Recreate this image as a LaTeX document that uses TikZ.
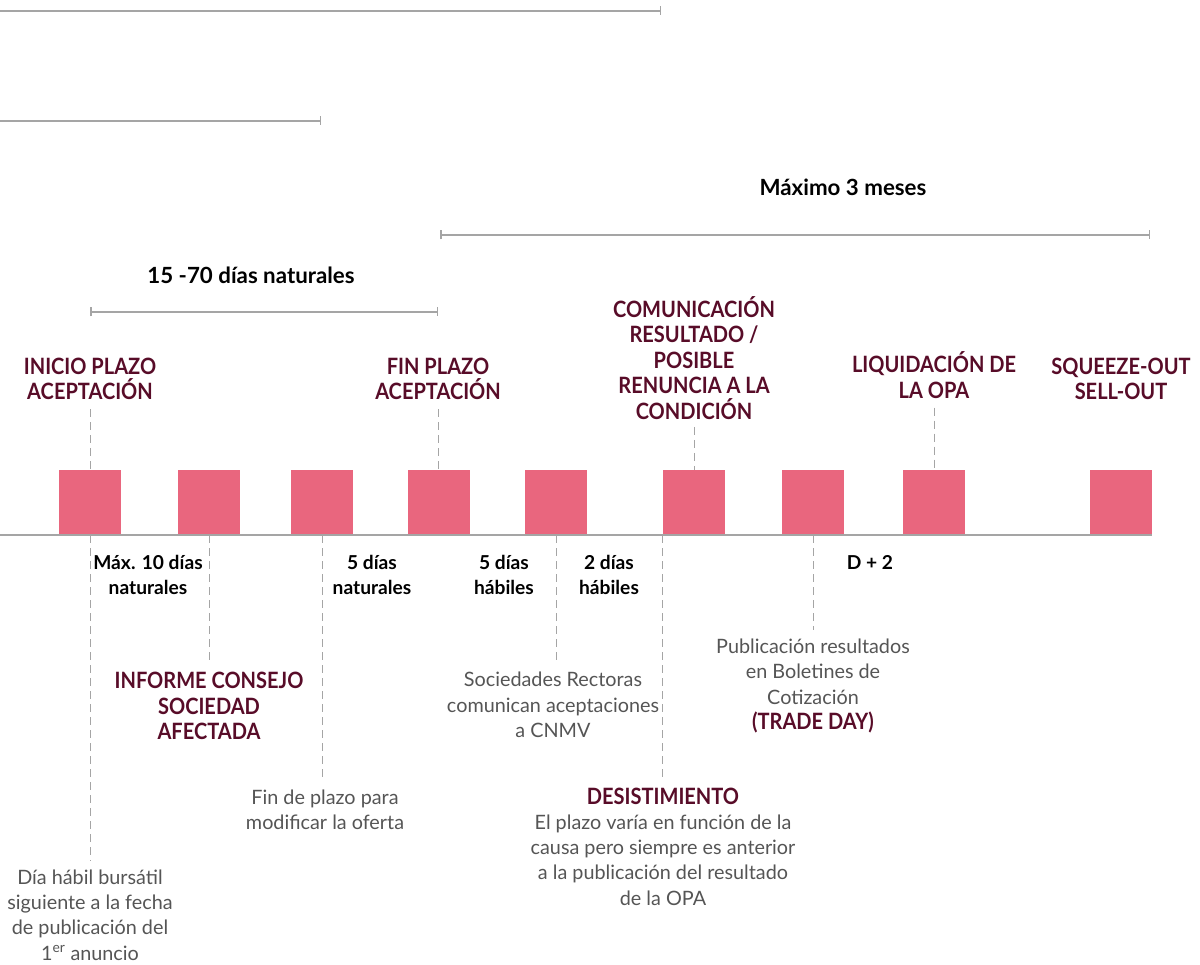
\documentclass[tikz,border=0pt]{standalone}
\usepackage{fontspec}
\setmainfont{Lato}
\newfontfamily\narrowbold{Lato}[FakeStretch=0.89]
\usetikzlibrary{arrows.meta, positioning}

\definecolor{opapink}{RGB}{233,102,126}
\definecolor{opamaroon}{RGB}{88,12,40}
\definecolor{opagray}{RGB}{85,85,85}
\definecolor{opaline}{RGB}{165,165,165}

\begin{document}
\begin{tikzpicture}[x=1pt, y=-1pt,
	stepbox/.style={fill=opapink, minimum width=62pt, minimum height=65pt, inner sep=0pt, anchor=south},
	event/.style={font=\narrowbold\bfseries\fontsize{22.5}{25.5}\selectfont, text=opamaroon, align=center, inner sep=1pt},
	note/.style={font=\fontsize{19.8}{25.3}\selectfont, text=opagray, align=center, inner sep=1pt},
	durlabel/.style={font=\bfseries\fontsize{19.2}{25}\selectfont, align=center, inner sep=1pt},
	period/.style={font=\bfseries\fontsize{22.3}{25}\selectfont},
	guide/.style={opaline, line width=1pt, dash pattern=on 8pt off 5pt},
	periodline/.style={opaline, line width=1.5pt},
]

	% Dimensions
	\def\axisy{535}
	\useasboundingbox (0,0) rectangle (1200,965);

	% Ranges on top
	\coordinate (r1a) at (0,11);
	\coordinate (r1b) at (661,11);
	\draw[periodline, -{Bar[width=9pt]}] (r1a) -- (r1b);
	\coordinate (r2a) at (0,121);
	\coordinate (r2b) at (321,121);
	\draw[periodline, -{Bar[width=9pt]}] (r2a) -- (r2b);

	\node[period] (meses) at (843,187) {Máximo 3 meses};
	\coordinate (r3a) at (440,235);
	\coordinate (r3b) at (1150,235);
	\draw[periodline, {Bar[width=9pt]}-{Bar[width=9pt]}] (r3a) -- (r3b);

	\node[period] (naturales) at (251,275) {15 -70 días naturales};
	\coordinate (r4a) at (90,312);
	\coordinate (r4b) at (438,312);
	\draw[periodline, {Bar[width=9pt]}-{Bar[width=9pt]}] (r4a) -- (r4b);

	% Boxes on the time line
	\node[stepbox] (b1) at (90,\axisy) {};
	\node[stepbox] (b2) at (209,\axisy) {};
	\node[stepbox] (b3) at (322,\axisy) {};
	\node[stepbox] (b4) at (439,\axisy) {};
	\node[stepbox] (b5) at (556,\axisy) {};
	\node[stepbox] (b6) at (694,\axisy) {};
	\node[stepbox] (b7) at (813,\axisy) {};
	\node[stepbox] (b8) at (934,\axisy) {};
	\node[stepbox] (b9) at (1121,\axisy) {};

	% Axis
	\coordinate (axisL) at (0,\axisy);
	\coordinate (axisR) at (1152,\axisy);
	\draw[opaline, line width=1.5pt] (axisL) -- (axisR);

	% Events above
	\node[event] (inicio) at (90,379) {INICIO PLAZO\\ACEPTACIÓN};
	\node[event] (fin) at (438,379) {FIN PLAZO\\ACEPTACIÓN};
	\node[event] (comunic) at (694,358) {COMUNICACIÓN\\RESULTADO /\\POSIBLE\\RENUNCIA A LA\\CONDICIÓN};
	\node[event] (liquid) at (934,375) {LIQUIDACIÓN DE\\LA OPA};
	\node[event] (squeeze) at (1121,379) {SQUEEZE-OUT\\SELL-OUT};

	\draw[guide, shorten <=8pt] (inicio.south) -- (b1.north);
	\draw[guide, shorten <=8pt] (fin.south) -- (fin.south |- b4.north);
	\draw[guide, shorten <=6pt] (comunic.south) -- (b6.north);
	\draw[guide, shorten <=8pt] (liquid.south) -- (b8.north);

	% Periods below
	\node[durlabel] (d1) at (148,575) {Máx. 10 días\\naturales};
	\node[durlabel] (d2) at (372,575) {5 días\\naturales};
	\node[durlabel] (d3) at (504,575) {5 días\\hábiles};
	\node[durlabel] (d4) at (609,575) {2 días\\hábiles};
	\node[durlabel] (d5) at (870,562) {D + 2};

	% Events below
	\node[event] (informe) at (209,706) {INFORME CONSEJO\\SOCIEDAD\\AFECTADA};
	\node[note] (modif) at (325,810) {Fin de plazo para\\modificar la oferta};
	\node[note] (dia) at (90,915) {Día hábil bursátil\\siguiente a la fecha\\de publicación del\\1\textsuperscript{er} anuncio};
	\node[note] (rectoras) at (553,705) {Sociedades Rectoras\\comunican aceptaciones\\a CNMV};
	\node[note] (public) at (813,686) {Publicación resultados\\en Boletines de\\Cotización\\{\color{opamaroon}\narrowbold\bfseries\fontsize{22.5}{25.3}\selectfont(TRADE DAY)}};
	\node[event] (desist) at (663,796) {DESISTIMIENTO};
	\node[note] (causa) at (663,860) {El plazo varía en función de la\\causa pero siempre es anterior\\a la publicación del resultado\\de la OPA};

	\draw[guide, shorten >=8pt] (b1.south) -- (dia.north);
	\draw[guide, shorten >=8pt] (b2.south) -- (informe.north);
	\draw[guide, shorten >=8pt] (b3.south) -- (b3.south |- modif.north);
	\draw[guide, shorten >=8pt] (b5.south) -- (b5.south |- rectoras.north);
	\draw[guide, shorten >=8pt] (b6.south west) -- (b6.south west |- desist.north);
	\draw[guide, shorten >=8pt] (b7.south) -- (public.north);

\end{tikzpicture}
\end{document}
